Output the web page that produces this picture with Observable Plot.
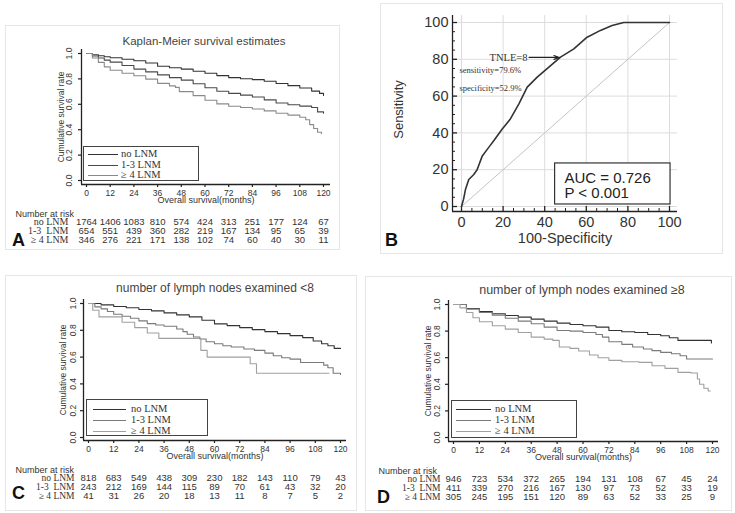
<!DOCTYPE html>
<html><head><meta charset="utf-8">
<script src="https://cdn.jsdelivr.net/npm/d3@7"></script>
<script src="https://cdn.jsdelivr.net/npm/@observablehq/plot@0.6"></script>
<style>
body{margin:0;background:#fff;}
#root{position:relative;width:735px;height:513px;overflow:hidden;background:#fff;font-family:"Liberation Sans",Arial,sans-serif;color:#333}
.frame{position:absolute;border:1px solid #e6e6e6;box-sizing:border-box}
.title{position:absolute;text-align:center;width:320px;line-height:16px;color:#444;white-space:nowrap}
.letter{position:absolute;font-weight:bold;color:#111;line-height:20px}
.legend{position:absolute;border:1.3px solid #444;box-sizing:border-box;background:#fff;font-family:"Liberation Serif","Times New Roman",serif;font-size:10.5px;color:#333}
.legend .ln{position:absolute;height:0;border-top:1.2px solid #333}
.legend .tx{position:absolute;line-height:11px;white-space:nowrap}
svg{position:absolute}
</style>
</head><body>
<div id="root"></div>
<script>
// ---------- data ----------
const months = [0, 12, 24, 36, 48, 60, 72, 84, 96, 108, 120];
const survTicks = [0, 0.2, 0.4, 0.6, 0.8, 1.0];
const groups = ["no LNM", "1-3  LNM", "\u2265 4 LNM"];

// Panel A: all patients (time in months, survival)
const kmA_no = [[0,1],[3,0.99],[6,0.982],[9,0.975],[12,0.966],[18,0.955],[24,0.943],[30,0.925],[36,0.9],[42,0.888],[48,0.877],[54,0.86],[60,0.845],[66,0.826],[72,0.81],[78,0.801],[84,0.794],[90,0.782],[96,0.764],[102,0.747],[108,0.728],[114,0.704],[118,0.686],[120,0.67]];
const kmA_13 = [[0,1],[3,0.98],[6,0.965],[9,0.948],[12,0.932],[18,0.905],[24,0.877],[30,0.855],[36,0.832],[42,0.81],[48,0.79],[54,0.762],[60,0.73],[66,0.703],[72,0.686],[78,0.672],[84,0.657],[90,0.635],[96,0.61],[102,0.597],[108,0.586],[114,0.575],[117,0.54],[120,0.53]];
const kmA_4 = [[0,1],[3,0.965],[6,0.93],[9,0.895],[12,0.868],[18,0.845],[24,0.825],[30,0.798],[36,0.765],[42,0.745],[45,0.733],[47,0.7],[54,0.668],[60,0.632],[66,0.603],[72,0.585],[78,0.575],[84,0.563],[90,0.548],[96,0.53],[102,0.515],[108,0.498],[111,0.478],[113,0.44],[115,0.41],[117,0.38],[119,0.37]];
const riskA_no = [1764,1406,1083,810,574,424,313,251,177,124,67];
const riskA_13 = [654,551,439,360,282,219,167,134,95,65,39];
const riskA_4 = [346,276,221,171,138,102,74,60,40,30,11];

// Panel C: lymph nodes examined < 8
const kmC_no = [[0,1],[6,0.99],[12,0.978],[18,0.968],[24,0.955],[30,0.945],[36,0.93],[42,0.915],[48,0.9],[54,0.875],[60,0.848],[66,0.835],[72,0.82],[78,0.805],[84,0.79],[90,0.775],[96,0.76],[102,0.745],[107,0.72],[111,0.7],[114,0.685],[117,0.665],[120,0.665]];
const kmC_13 = [[0,1],[3,0.975],[6,0.96],[9,0.94],[12,0.92],[16,0.905],[20,0.89],[24,0.87],[28,0.85],[32,0.84],[36,0.83],[42,0.81],[45,0.79],[47,0.77],[50,0.75],[53,0.735],[56,0.715],[60,0.7],[64,0.685],[68,0.675],[74,0.66],[79,0.65],[84,0.63],[88,0.61],[92,0.595],[96,0.585],[101,0.56],[110,0.56],[112,0.54],[114,0.52],[116.5,0.48],[120,0.47]];
const kmC_4 = [[0,1],[2,0.95],[5,0.9],[16,0.86],[22,0.82],[28,0.78],[33.5,0.74],[53.5,0.65],[56.5,0.6],[77,0.55],[80,0.48],[114.5,0.48]];
const riskC_no = [818,683,549,438,309,230,182,143,110,79,43];
const riskC_13 = [243,212,169,144,115,89,70,61,43,32,20];
const riskC_4 = [41,31,26,20,18,13,11,8,7,5,2];

// Panel D: lymph nodes examined >= 8
const kmD_no = [[0,1],[6,0.97],[12,0.947],[18,0.93],[24,0.917],[30,0.905],[36,0.89],[42,0.875],[48,0.86],[54,0.85],[60,0.84],[66,0.83],[72,0.805],[78,0.795],[84,0.79],[90,0.775],[96,0.765],[100,0.75],[104,0.73],[118,0.73],[119.5,0.71]];
const kmD_13 = [[0,1],[6,0.965],[12,0.94],[18,0.92],[24,0.897],[30,0.875],[36,0.855],[42,0.83],[48,0.805],[54,0.8],[60,0.79],[66,0.775],[69,0.755],[72,0.72],[78,0.7],[83,0.68],[88,0.665],[92,0.653],[96,0.64],[101,0.63],[105,0.615],[108,0.59],[120,0.59]];
const kmD_4 = [[0,1],[3,0.975],[6,0.94],[9,0.9],[12,0.87],[18,0.84],[24,0.815],[30,0.79],[36,0.755],[42,0.74],[46,0.73],[49,0.68],[54,0.67],[58,0.65],[63,0.62],[67,0.6],[72,0.58],[78,0.57],[86,0.565],[92,0.54],[98,0.52],[104,0.49],[110,0.485],[113,0.44],[114,0.4],[116,0.37],[118,0.35],[119,0.35]];
const riskD_no = [946,723,534,372,265,194,131,108,67,45,24];
const riskD_13 = [411,339,270,216,167,130,97,73,52,33,19];
const riskD_4 = [305,245,195,151,120,89,63,52,33,25,9];

// Panel B: ROC curve (100-specificity, sensitivity)
const rocFpr = [0,1,1.9,3.5,5.9,7.5,10,13,15.5,19.5,23.5,27.6,31.6,36.4,42,47.6,54,60.4,66.8,72.4,78,100];
const rocTpr = [0,4,9.2,14.7,17.4,20,27.5,32,35.7,42,47.6,55.8,64.9,70.3,75.8,81.2,85.7,92,95.7,98.4,100,100];
const rocTicks = [0, 20, 40, 60, 80, 100];
const rocMinor = [5,10,15,25,30,35,45,50,55,65,70,75,85,90,95];
const diagonal = [0, 100];
const cutoffText = ["TNLE=8"];
const statsText = ["sensitivity=79.6%", "specificity=52.9%"];
const aucText = ["AUC = 0.726", "P < 0.001"];

// ---------- helpers ----------
const SANS = "Liberation Sans, Arial, sans-serif";
const SERIF = "Liberation Serif, Times New Roman, serif";
const AXIS = "#222222";
const root = document.getElementById("root");
function place(el, left, top) { el.style.position = "absolute"; el.style.left = left + "px"; el.style.top = top + "px"; root.appendChild(el); return el; }
function div(cls, text, css) { const d = document.createElement("div"); d.className = cls; if (text != null) d.textContent = text; Object.assign(d.style, css || {}); return d; }
function frame(l, t, w, h) { place(div("frame", null, {width: w + "px", height: h + "px"}), l, t); }

function kmPanel(cfg) {
  const L = cfg.svgLeft, W = cfg.svgWidth;
  const T = cfg.axisTop - 6, H = cfg.xAxis + 26 - T;
  const curves = cfg.series.map((s, i) =>
    Plot.line(s, {x: d => d[0], y: d => d[1], stroke: cfg.colors[i], curve: "step-after", strokeWidth: 1.1}));
  const km = Plot.plot({
    width: W, height: H,
    marginLeft: cfg.axisLeft - L, marginRight: L + W - cfg.axisRight,
    marginTop: cfg.axisTop - T, marginBottom: T + H - cfg.xAxis,
    insetLeft: cfg.x0 - cfg.axisLeft, insetRight: cfg.axisRight - cfg.x120,
    insetTop: cfg.y1 - cfg.axisTop, insetBottom: cfg.xAxis - cfg.y0,
    x: {domain: [0, 120]},
    y: {domain: [0, 1]},
    style: {fontFamily: SANS, fontSize: "9px", color: "#333", background: "transparent", overflow: "visible"},
    marks: [
      Plot.ruleX([0], {dx: -(cfg.x0 - cfg.axisLeft), stroke: AXIS, strokeWidth: 1.3}),
      Plot.ruleY([0], {dy: cfg.xAxis - cfg.y0, stroke: AXIS, strokeWidth: 1.3}),
      Plot.axisX({ticks: months, tickSize: 3, tickPadding: 2, label: null, fontSize: 8.5, stroke: AXIS, strokeWidth: 1.2}),
      Plot.axisY({ticks: survTicks, tickSize: 3, tickFormat: () => "", label: null, stroke: AXIS, strokeWidth: 1.2}),
      Plot.text(survTicks, {y: d => d, text: d3.format(".1f"), frameAnchor: "left", dx: cfg.yLabDx, rotate: -90, textAnchor: "middle", fontSize: 8.5, fill: "#333"}),
      ...curves,
      Plot.text(["Overall survival(months)"], {frameAnchor: "bottom", dy: cfg.xLabDy, textAnchor: "middle", fontSize: 9, fill: "#333"}),
      Plot.text(["Cumulative survival rate"], {frameAnchor: "left", rotate: -90, dx: -20, textAnchor: "middle", fontSize: 8.5, fill: "#333"})
    ]
  });
  place(km, L, T);

  const risk = [];
  cfg.risk.forEach((arr, i) => arr.forEach((n, j) => risk.push({t: months[j], n, g: groups[i]})));
  const tbl = Plot.plot({
    width: W, height: 42,
    marginLeft: cfg.x0 - L, marginRight: L + W - cfg.x120, marginTop: 16, marginBottom: 8,
    x: {domain: [0, 120], axis: null},
    y: {type: "point", domain: groups, padding: 0},
    style: {fontFamily: SANS, fontSize: "9px", color: "#333", background: "transparent", overflow: "visible"},
    marks: [
      Plot.axisY({tickSize: 0, tickPadding: cfg.x0 - cfg.labRight, fontFamily: SERIF, fontSize: cfg.labFont, label: null}),
      Plot.text(risk, {x: "t", y: "g", text: d => String(d.n), fontSize: 9.5, fill: "#333"}),
      Plot.text(["Number at risk"], {frameAnchor: "top-left", dx: cfg.narLeft - cfg.x0, dy: -11, textAnchor: "start", fontSize: 9, fill: "#333"})
    ]
  });
  place(tbl, L, cfg.row1 - 16);

  place(div("title", cfg.title, {fontSize: cfg.titleSize + "px"}), cfg.titleX - 160, cfg.titleY - 8);
  const lg = place(div("legend", null, {width: cfg.lg.w + "px", height: cfg.lg.h + "px"}), cfg.lg.x, cfg.lg.y);
  groups.forEach((g, i) => {
    lg.appendChild(div("ln", null, {left: cfg.lg.lineL + "px", width: cfg.lg.lineW + "px", top: cfg.lg.rows[i] + "px", borderTopColor: cfg.colors[i]}));
    lg.appendChild(div("tx", g, {left: cfg.lg.textL + "px", top: (cfg.lg.rows[i] - 6) + "px"}));
  });
  place(div("letter", cfg.letter, {fontSize: "18px"}), cfg.letterX, cfg.letterY);
}

// ---------- frames ----------
frame(5, 25, 335, 225);
frame(380, 3, 343, 251);
frame(5, 275, 352, 236);
frame(365, 276, 367, 235);

// ---------- panel A ----------
kmPanel({
  svgLeft: 5, svgWidth: 334,
  axisLeft: 81, x0: 86, x120: 323, axisRight: 330,
  axisTop: 49, y1: 53, y0: 180, xAxis: 184,
  yLabDx: -12, xLabDy: 18,
  series: [kmA_no, kmA_13, kmA_4], colors: ["#333", "#4a4a4a", "#8a8a8a"],
  risk: [riskA_no, riskA_13, riskA_4],
  row1: 221, labRight: 68, labFont: 10, narLeft: 15,
  title: "Kaplan-Meier survival estimates", titleSize: 11.5, titleX: 204, titleY: 41,
  lg: {x: 83, y: 146, w: 116, h: 35, lineL: 4, lineW: 30, textL: 37, rows: [7, 18, 28]},
  letter: "A", letterX: 12, letterY: 230
});

// ---------- panel C ----------
kmPanel({
  svgLeft: 5, svgWidth: 350,
  axisLeft: 83, x0: 88, x120: 340, axisRight: 346,
  axisTop: 299, y1: 303, y0: 437, xAxis: 440,
  yLabDx: -10, xLabDy: 18,
  series: [kmC_no, kmC_13, kmC_4], colors: ["#333", "#7a7a7a", "#a0a0a0"],
  risk: [riskC_no, riskC_13, riskC_4],
  row1: 477, labRight: 74, labFont: 9.5, narLeft: 15,
  title: "number of lymph nodes examined <8", titleSize: 12, titleX: 215, titleY: 288,
  lg: {x: 86, y: 399, w: 122, h: 37, lineL: 6, lineW: 33, textL: 44, rows: [9, 20, 31]},
  letter: "C", letterX: 12, letterY: 483
});

// ---------- panel D ----------
kmPanel({
  svgLeft: 366, svgWidth: 364,
  axisLeft: 448, x0: 453, x120: 712, axisRight: 718,
  axisTop: 300, y1: 304, y0: 437, xAxis: 441,
  yLabDx: -11, xLabDy: 18,
  series: [kmD_no, kmD_13, kmD_4], colors: ["#333", "#7a7a7a", "#a0a0a0"],
  risk: [riskD_no, riskD_13, riskD_4],
  row1: 478, labRight: 440, labFont: 9.5, narLeft: 378,
  title: "number of lymph nodes examined \u22658", titleSize: 12.5, titleX: 582, titleY: 290,
  lg: {x: 451, y: 400, w: 126, h: 38, lineL: 4, lineW: 35, textL: 43, rows: [8, 19, 30]},
  letter: "D", letterX: 377, letterY: 487
});

// ---------- panel B (ROC) ----------
{
  const L = 370, T = 0, W = 365, H = 252;
  const roc = rocFpr.map((x, i) => ({x, y: rocTpr[i]}));
  const p = Plot.plot({
    width: W, height: H,
    marginLeft: 452 - L, marginRight: L + W - 677, marginTop: 15, marginBottom: H - 211,
    insetLeft: 9, insetRight: 8, insetTop: 7, insetBottom: 5,
    x: {domain: [0, 100]}, y: {domain: [0, 100]},
    style: {fontFamily: SANS, fontSize: "14px", color: "#333", background: "transparent", overflow: "visible"},
    marks: [
      Plot.gridX(rocTicks, {stroke: "#dcdcdc", strokeOpacity: 1}),
      Plot.gridY(rocTicks, {stroke: "#dcdcdc", strokeOpacity: 1}),
      Plot.line(diagonal, {x: d => d, y: d => d, stroke: "#c4c4c4", strokeWidth: 1}),
      Plot.ruleX([0], {dx: -9, stroke: AXIS, strokeWidth: 1.3}),
      Plot.ruleY([0], {dy: 5, stroke: AXIS, strokeWidth: 1.3}),
      Plot.axisX({ticks: rocTicks, tickSize: -5, tickPadding: 10, label: null, fontSize: 14.5, stroke: AXIS, strokeWidth: 1.3}),
      Plot.axisX({ticks: rocMinor, tickSize: -3, tickFormat: () => "", label: null, stroke: AXIS}),
      Plot.axisY({ticks: rocTicks, tickSize: -5, tickPadding: 9, label: null, fontSize: 14.5, stroke: AXIS, strokeWidth: 1.3}),
      Plot.axisY({ticks: rocMinor, tickSize: -3, tickFormat: () => "", label: null, stroke: AXIS}),
      Plot.line(roc, {x: "x", y: "y", stroke: "#333", strokeWidth: 1.6}),
      Plot.text(cutoffText, {x: 22.6, y: 81, fontFamily: SERIF, fontSize: 10.5, fill: "#333"}),
      Plot.arrow(cutoffText, {x1: 32.5, y1: 81, x2: 47, y2: 81, stroke: "#222", strokeWidth: 1.2, headLength: 7, headAngle: 40}),
      Plot.text(statsText, {x: -1, y: (d, i) => [74, 64][i], textAnchor: "start", fontFamily: SERIF, fontSize: 8.5, fill: "#333"}),
      Plot.rect([0], {x1: 45, x2: 100.5, y1: 1.1, y2: 23.4, fill: "white", stroke: "#333", strokeWidth: 1.2}),
      Plot.text(aucText, {x: 49.5, y: (d, i) => [15.5, 7.3][i], textAnchor: "start", fontSize: 15, fill: "#222"}),
      Plot.text(["Sensitivity"], {frameAnchor: "left", rotate: -90, dx: -54, dy: -4, textAnchor: "middle", fontSize: 13, fill: "#333"}),
      Plot.text(["100-Specificity"], {frameAnchor: "bottom", dy: 31, textAnchor: "middle", fontSize: 14.5, fill: "#333"})
    ]
  });
  place(p, L, T);
  place(div("letter", "B", {fontSize: "18px"}), 385, 230);
}
</script>
</body></html>
